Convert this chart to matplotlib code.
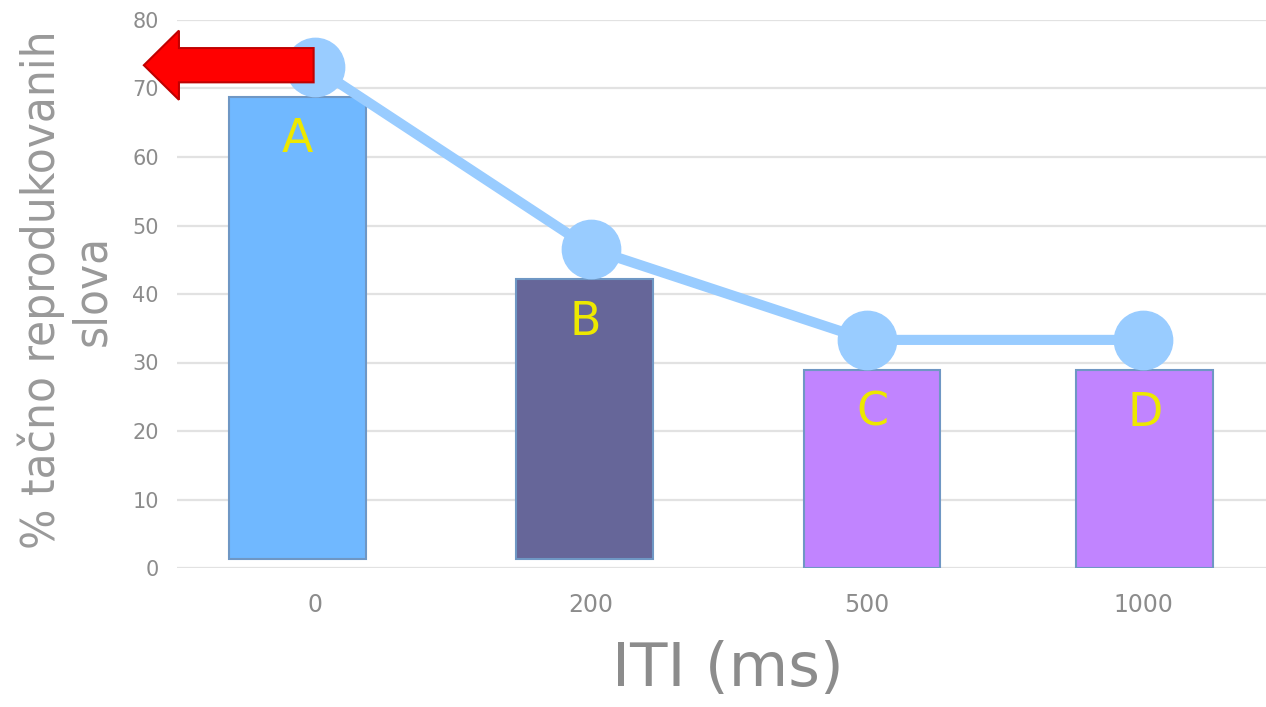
import numpy as np
import matplotlib.pyplot as plt
from matplotlib import font_manager
from matplotlib.patches import FancyArrow

# Podaci
kategorije = ["0", "200", "500", "1000"]
oznake = ["A", "B", "C", "D"]
vrh_stubaca = [68.8, 42.2, 28.9, 28.9]
dno_stubaca = [1.3, 1.3, 0.0, 0.0]
linija = [73.1, 46.6, 33.3, 33.3]
boje = ["#70b8ff", "#666699", "#c184ff", "#c184ff"]

# stupci nisu tačno centrirani na kategoriji
pomak = [-0.065, -0.022, 0.018, 0.007]

siva = "#8c8c8c"

imena = {f.name for f in font_manager.fontManager.ttflist}
uski = [(f.name, f.stretch) for f in font_manager.fontManager.ttflist
        if "Narrow" in f.name or "ondensed" in str(f.stretch)]

fig = plt.figure(figsize=(12.66, 7.07), dpi=100)
ax = fig.add_axes([177 / 1266, 1 - 568 / 707, 1089 / 1266, 548 / 707])

x = np.arange(len(kategorije))
visine = np.array(vrh_stubaca) - np.array(dno_stubaca)
ax.bar(x + np.array(pomak), visine, bottom=dno_stubaca, width=0.496,
       color=boje, edgecolor="#6f97c4", linewidth=1.5, zorder=2)

for xi, p, v, o in zip(x, pomak, vrh_stubaca, oznake):
    ax.text(xi + p, v - 6.3, o, ha="center", va="center", fontsize=33,
            color="#ede800", zorder=3)

ax.plot(x, linija, color="#99ccff", linewidth=7.3, marker="o",
        markersize=42, zorder=4)

# crvena strelica
ax.add_patch(FancyArrow(-0.005, 73.4, -0.615, 0, width=5.0, head_width=10.1,
                        head_length=0.127, length_includes_head=True,
                        facecolor="#ff0000", edgecolor="#c00000",
                        linewidth=1.5, clip_on=False, zorder=5))

ax.set_xlim(-0.5, 3.5 - 15 / 276)
ax.set_ylim(0, 80)
ax.set_yticks(np.arange(0, 81, 10))
ax.set_xticks(x)
ax.set_xticklabels(kategorije)
ax.tick_params(axis="x", length=0, labelsize=17, labelcolor=siva, pad=18)
ax.tick_params(axis="y", length=0, labelsize=15, labelcolor=siva, pad=13)
ax.grid(axis="y", color="#e2e2e2", linewidth=1.6, zorder=0)
ax.set_axisbelow(True)
for s in ax.spines.values():
    s.set_visible(False)

fig.text(728 / 1266, 1 - 670 / 707, "ITI (ms)", ha="center", va="center",
         fontsize=44, color=siva)

if "Liberation Sans Narrow" in imena:
    porodica, velicina, sirina = ["Liberation Sans Narrow", "DejaVu Sans"], 38, "normal"
elif any(n == "DejaVu Sans" and "ondensed" in str(s) for n, s in uski):
    porodica, velicina, sirina = ["DejaVu Sans"], 34, "condensed"
else:
    porodica, velicina, sirina = ["DejaVu Sans"], 32, "normal"

fig.text(66 / 1266, 1 - 290 / 707, "% tačno reprodukovanih\nslova",
         rotation=90, ha="center", va="center", multialignment="center",
         fontsize=velicina, color="#999999", linespacing=1.15,
         family=porodica, fontstretch=sirina)

plt.savefig("out.png")
